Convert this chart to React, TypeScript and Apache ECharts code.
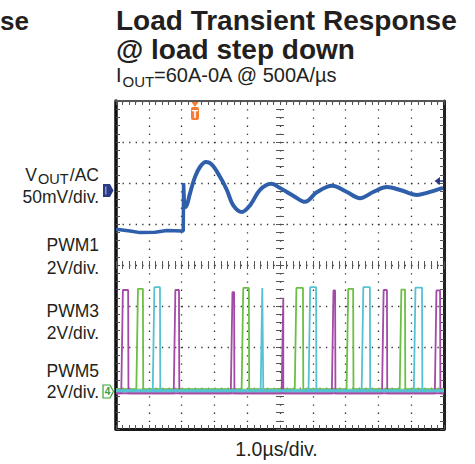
import React, { useEffect, useRef } from "react";
import * as echarts from "echarts";

// Scope grid: 10 horizontal divisions (1.0 µs/div), 8 vertical divisions
const xDivisions = 10;
const yDivisions = 8;

// VOUT/AC trace (x in divisions, y in divisions from bottom)
const voutBeforeX = [0, 0.43, 0.73, 1.19, 1.55, 2.01, 2.05, 2.06, 2.09];
const voutBeforeY = [4.87, 4.83, 4.79, 4.8, 4.84, 4.83, 4.83, 6.0, 5.39];
const voutAfterX = [2.09, 2.16, 2.26, 2.41, 2.56, 2.74, 2.93, 3.17, 3.38, 3.57, 3.84, 4.09, 4.39, 4.73, 5.0, 5.21, 5.46, 5.76, 6.13, 6.59, 7.04, 7.44, 7.84, 8.26, 8.66, 9.18, 9.48, 9.97];
const voutAfterY = [5.39, 5.46, 5.76, 6.15, 6.39, 6.51, 6.44, 6.15, 5.83, 5.46, 5.29, 5.46, 5.83, 5.98, 5.88, 5.78, 5.66, 5.54, 5.78, 5.93, 5.78, 5.63, 5.78, 5.9, 5.83, 5.71, 5.76, 5.88];

// PWM pulses: [rise, fall, high level] in divisions
const pwmMagentaPulses = [
  [0.16, 0.37, 3.39], [1.76, 1.92, 3.39], [3.5, 3.6, 3.34], [5.05, 5.09, 3.2],
  [6.58, 6.68, 3.38], [8.11, 8.26, 3.39], [9.72, 9.88, 3.38],
];
const pwmGreenPulses = [
  [0.62, 0.82, 3.42], [3.83, 4.05, 3.44], [5.45, 5.7, 3.44], [7.03, 7.23, 3.42], [8.65, 8.81, 3.4],
];
const pwmCyanPulses = [
  [1.12, 1.34, 3.46], [4.41, 4.48, 3.44], [5.87, 6.1, 3.46], [7.49, 7.74, 3.46], [9.08, 9.33, 3.45],
];
const pwmMagentaBase = 0.87;
const pwmGreenBase = 0.97;
const pwmCyanBase = 0.93;

const titleLines = ["Load Transient Response", "@ load step down"];
const channelLabels = ["50mV/div.", "PWM1", "2V/div.", "PWM3", "2V/div.", "PWM5", "2V/div."];
const timeLabel = "1.0\u00b5s/div.";

const C_TEXT = "#231f20";
const C_VOUT = "#2f5fab";
const C_MAG = "#a24aa6";
const C_GRN = "#6cbf45";
const C_CYAN = "#55c2d4";

function zip(xs: number[], ys: number[]) {
  return xs.map((x, i) => [x, ys[i]]);
}

function pulseTrain(pulses: number[][], base: number) {
  const d: number[][] = [[0, base]];
  for (const [r, f, t] of pulses) {
    d.push([r, base], [r + 0.05, t], [f, t], [f + 0.01, base]);
  }
  d.push([xDivisions, base]);
  return d;
}

const FONT = '"Liberation Sans", Arial, Helvetica, sans-serif';

function txt(text: string, x: number, y: number, size: number, align: string, weight = "normal", lh?: number) {
  return {
    type: "text",
    x,
    y,
    z: 100,
    style: {
      text,
      font: `${weight} ${size}px ${FONT}`,
      fill: C_TEXT,
      align,
      textAlign: align,
      verticalAlign: "middle",
      textVerticalAlign: "middle",
      lineHeight: lh ?? Math.round(size * 1.05),
    },
  };
}

export default function App() {
  const ref = useRef<HTMLDivElement>(null);
  useEffect(() => {
    if (!ref.current) return;
    const chart = echarts.init(ref.current, undefined, { renderer: "svg" });
    const tickStyle = { color: "#555", width: 1 };
    const gridL = 116, gridT = 101, gridW = 328, gridH = 328;
    const option: any = {
      animation: false,
      backgroundColor: "#fff",
      grid: { left: gridL, top: gridT, width: gridW, height: gridH, containLabel: false },
      xAxis: [
        {
          type: "value", min: 0, max: xDivisions, interval: 1, position: "bottom",
          axisLine: { show: true, onZero: false, lineStyle: { color: "#1a1a1a", width: 3 } },
          axisTick: { show: true, inside: true, length: 4, lineStyle: tickStyle },
          minorTick: { show: true, splitNumber: 5, length: 4, lineStyle: tickStyle },
          axisLabel: { show: false },
          splitLine: { show: true, lineStyle: { color: "#333", width: 1.3, type: [1.3, 6.9] } },
        },
        {
          type: "value", min: 0, max: xDivisions, interval: 1, position: "top",
          axisLine: { show: true, onZero: false, lineStyle: { color: "#555", width: 2 } },
          axisTick: { show: true, inside: true, length: 4, lineStyle: tickStyle },
          minorTick: { show: true, splitNumber: 5, length: 4, lineStyle: tickStyle },
          axisLabel: { show: false },
          splitLine: { show: false },
        },
        {
          type: "value", min: 0, max: xDivisions, interval: 1, position: "bottom", offset: -160,
          axisLine: { show: false, onZero: false },
          axisTick: { show: true, inside: true, length: 8, lineStyle: tickStyle },
          minorTick: { show: true, splitNumber: 5, length: 8, lineStyle: tickStyle },
          axisLabel: { show: false },
          splitLine: { show: false },
        },
      ],
      yAxis: [
        {
          type: "value", min: 0, max: yDivisions, interval: 1, position: "left",
          axisLine: { show: true, onZero: false, lineStyle: { color: "#111", width: 3.5 } },
          axisTick: { show: true, inside: true, length: 4, lineStyle: tickStyle },
          minorTick: { show: true, splitNumber: 5, length: 4, lineStyle: tickStyle },
          axisLabel: { show: false },
          splitLine: { show: true, lineStyle: { color: "#333", width: 1.3, type: [1.3, 5.26] } },
        },
        {
          type: "value", min: 0, max: yDivisions, interval: 1, position: "right",
          axisLine: { show: true, onZero: false, lineStyle: { color: "#222", width: 3 } },
          axisTick: { show: true, inside: true, length: 4, lineStyle: tickStyle },
          minorTick: { show: true, splitNumber: 5, length: 4, lineStyle: tickStyle },
          axisLabel: { show: false },
          splitLine: { show: false },
        },
        {
          type: "value", min: 0, max: yDivisions, interval: 1, position: "left", offset: -160,
          axisLine: { show: false, onZero: false },
          axisTick: { show: true, inside: true, length: 8, lineStyle: tickStyle },
          minorTick: { show: true, splitNumber: 5, length: 8, lineStyle: tickStyle },
          axisLabel: { show: false },
          splitLine: { show: false },
        },
      ],
      series: [
        {
          name: "PWM3", type: "line", xAxisIndex: 0, yAxisIndex: 0, showSymbol: false,
          data: [[0, pwmGreenBase], [xDivisions, pwmGreenBase]],
          lineStyle: { color: "#9fd783", width: 1.5 }, z: 2,
        },
        {
          name: "PWM1", type: "line", xAxisIndex: 0, yAxisIndex: 0, showSymbol: false,
          data: [[0, pwmMagentaBase], [xDivisions, pwmMagentaBase]],
          lineStyle: { color: C_MAG, width: 2 }, z: 2,
        },
        {
          name: "PWM3 pulses", type: "line", xAxisIndex: 0, yAxisIndex: 0, showSymbol: false,
          data: pulseTrain(pwmGreenPulses, pwmGreenBase),
          lineStyle: { color: C_GRN, width: 1.8 }, z: 3,
        },
        {
          name: "PWM1 pulses", type: "line", xAxisIndex: 0, yAxisIndex: 0, showSymbol: false,
          data: pulseTrain(pwmMagentaPulses, pwmMagentaBase),
          lineStyle: { color: C_MAG, width: 1.8 }, z: 3,
        },
        {
          name: "PWM5 pulses", type: "line", xAxisIndex: 0, yAxisIndex: 0, showSymbol: false,
          data: pulseTrain(pwmCyanPulses, pwmCyanBase),
          lineStyle: { color: C_CYAN, width: 1.8 }, z: 3,
        },
        {
          name: "PWM5", type: "line", xAxisIndex: 0, yAxisIndex: 0, showSymbol: false,
          data: [[0, pwmCyanBase], [xDivisions, pwmCyanBase]],
          lineStyle: { color: C_CYAN, width: 3 }, z: 4,
        },
        {
          name: "VOUT", type: "line", xAxisIndex: 0, yAxisIndex: 0, showSymbol: false,
          data: zip(voutBeforeX, voutBeforeY),
          lineStyle: { color: C_VOUT, width: 3.5 }, z: 5,
        },
        {
          name: "VOUT2", type: "line", xAxisIndex: 0, yAxisIndex: 0, showSymbol: false, smooth: 0.35,
          data: zip(voutAfterX, voutAfterY),
          lineStyle: { color: C_VOUT, width: 4 }, z: 5,
        },
      ],
      graphic: [
        txt("se", 0, 21, 26, "left", "bold", 24),
        txt(titleLines[0], 116, 20, 28, "left", "bold", 25),
        txt(titleLines[1], 116, 49, 28, "left", "bold", 25),
        txt("I", 116, 75, 20, "left", "normal", 18),
        txt("OUT", 122.5, 81, 15, "left", "normal", 14),
        txt("=60A-0A @ 500A/\u00b5s", 154, 75, 20, "left", "normal", 18),
        txt("V", 37, 174.5, 17.5, "right", "normal", 16),
        txt("OUT", 68.5, 179, 14.5, "right", "normal", 13),
        txt("/AC", 99, 174.5, 17.5, "right", "normal", 16),
        txt(channelLabels[0], 99, 197, 17.5, "right", "normal", 16),
        txt(channelLabels[1], 99, 245, 17.5, "right", "normal", 16),
        txt(channelLabels[2], 99, 268, 17.5, "right", "normal", 16),
        txt(channelLabels[3], 99, 311, 17.5, "right", "normal", 16),
        txt(channelLabels[4], 99, 333, 17.5, "right", "normal", 16),
        txt(channelLabels[5], 99, 371, 17.5, "right", "normal", 16),
        txt(channelLabels[6], 99, 392, 17.5, "right", "normal", 16),
        txt(timeLabel, 276.5, 449, 19.5, "center"),
        // VOUT channel marker
        {
          type: "polygon", z: 100,
          shape: { points: [[103, 184], [110, 184], [113.5, 190.5], [110, 197], [103, 197]] },
          style: { fill: "#2b3a86" },
        },
        {
          type: "rect", z: 101, shape: { x: 105, y: 186.5, width: 1.5, height: 8 },
          style: { fill: "#8d93c4" },
        },
        // channel 4 marker (green)
        {
          type: "polygon", z: 100,
          shape: { points: [[103, 385], [110, 385], [113.5, 391.5], [110, 398], [103, 398]] },
          style: { fill: "#fff", stroke: "#3ba03a", lineWidth: 1.2 },
        },
        {
          type: "text", x: 107.5, y: 391.8, z: 101,
          style: { text: "4", font: `bold 10px ${FONT}`, fill: "#3ba03a", align: "center", textAlign: "center", verticalAlign: "middle", textVerticalAlign: "middle" },
        },
        // trigger marker
        {
          type: "polygon", z: 100,
          shape: { points: [[191.5, 102], [198.5, 102], [195, 107]] },
          style: { fill: "#f47b30" },
        },
        {
          type: "rect", z: 100, shape: { x: 191, y: 107, width: 8, height: 13, r: 2 },
          style: { fill: "#f47b30" },
        },
        {
          type: "text", x: 195, y: 114, z: 101,
          style: { text: "T", font: `bold 10px ${FONT}`, fill: "#fff", align: "center", textAlign: "center", verticalAlign: "middle", textVerticalAlign: "middle" },
        },
        // right cursor marker
        {
          type: "polygon", z: 100,
          shape: { points: [[434.5, 181], [440, 177], [440, 185]] },
          style: { fill: "#2b3a86" },
        },
        {
          type: "line", z: 100, shape: { x1: 438, y1: 181, x2: 443, y2: 181 },
          style: { stroke: "#2b3a86", lineWidth: 1.5 },
        },
      ],
    };
    chart.setOption(option);
    return () => chart.dispose();
  }, []);
  return (
    <div
      ref={ref}
      style={{ position: "fixed", left: 0, top: 0, width: 475, height: 464, background: "#fff" }}
    />
  );
}
